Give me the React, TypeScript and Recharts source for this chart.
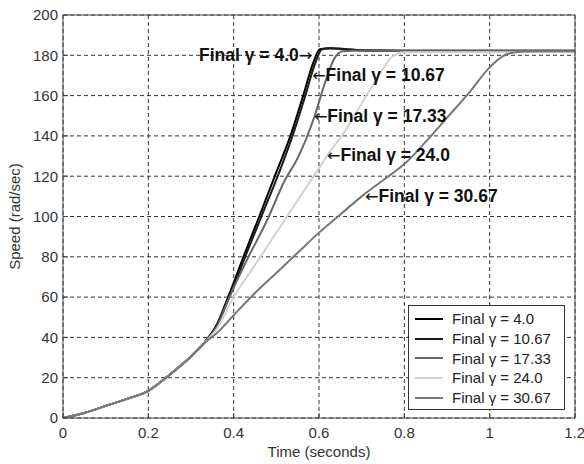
import { CartesianGrid, Legend, Line, LineChart, ReferenceDot, XAxis, YAxis } from "recharts";

const xTicks = [0, 0.2, 0.4, 0.6, 0.8, 1, 1.2];
const yTicks = [0, 20, 40, 60, 80, 100, 120, 140, 160, 180, 200];

// shared start-up before the curves split
const baseT = [0, 0.05, 0.1, 0.15, 0.2, 0.25, 0.3, 0.33];
const baseV = [0, 2.5, 6, 9.5, 13.5, 21.5, 30.5, 37];

const t4 = [0.36, 0.387, 0.423, 0.46, 0.5, 0.533, 0.563, 0.586, 0.602, 0.625, 0.66, 0.7, 0.8, 1.2];
const v4 = [46, 60, 80, 100, 122, 140, 160, 176, 183, 183.5, 183, 182.5, 182.3, 182.3];

const t10 = [0.36, 0.39, 0.427, 0.465, 0.505, 0.538, 0.568, 0.591, 0.607, 0.63, 0.665, 0.71, 1.2];
const v10 = [46, 60, 80, 100, 121, 140, 160, 176, 183, 183.5, 183, 182.3, 182.3];

const t17 = [0.36, 0.39, 0.43, 0.478, 0.52, 0.55, 0.59, 0.615, 0.635, 0.655, 0.68, 1.2];
const v17 = [45, 60, 78, 98, 118, 129, 150, 167, 178, 182, 182.2, 182];

const t24 = [0.36, 0.4, 0.45, 0.5, 0.55, 0.6, 0.62, 0.65, 0.7, 0.74, 0.77, 0.8, 1.2];
const v24 = [44, 60, 76, 92, 108, 124, 130.5, 139, 156, 170, 179, 181.5, 181.5];

const t30 = [0.36, 0.4, 0.45, 0.5, 0.55, 0.6, 0.65, 0.7, 0.75, 0.8, 0.85, 0.9, 0.95, 1.0, 1.03, 1.06, 1.1, 1.2];
const v30 = [42, 51, 62, 72, 82, 92, 101, 110, 118, 126, 137, 149, 161, 174, 179.5, 181.5, 182, 182];

const seriesNames = ["Final γ = 4.0", "Final γ = 10.67", "Final γ = 17.33", "Final γ = 24.0", "Final γ = 30.67"];
const seriesColors = ["#000000", "#1c1c1c", "#666666", "#d2d2d2", "#777777"];

// arrow annotations, tip at (noteT, noteV)
const noteT = [0.584, 0.584, 0.588, 0.619, 0.708];
const noteV = [180, 170, 150, 130.5, 110];
const noteText = ["Final γ = 4.0", "Final γ = 10.67", "Final γ = 17.33", "Final γ = 24.0", "Final γ = 30.67"];

const build = (t: number[], v: number[]) => {
  const ts = [...baseT, ...t];
  const vs = [...baseV, ...v];
  return ts.map((x, i) => ({ t: x, v: vs[i] }));
};

const seriesData = [build(t4, v4), build(t10, v10), build(t17, v17), build(t24, v24), build(t30, v30)];

const FONT = "'Liberation Sans', Arial, sans-serif";
const FRAME = "#444";

function LegendBox() {
  return (
    <div
      style={{
        boxSizing: "border-box",
        width: 157,
        height: 105,
        border: "1px solid #333",
        background: "#fff",
        paddingTop: 3,
        fontSize: 15,
        color: "#222",
        fontFamily: FONT,
      }}
    >
      {seriesNames.map((name, i) => (
        <div key={name} style={{ display: "flex", alignItems: "center", height: 19.7 }}>
          <svg width={28} height={4} style={{ marginLeft: 6 }}>
            <line x1={0} x2={28} y1={2} y2={2} stroke={seriesColors[i]} strokeWidth={2} />
          </svg>
          <span style={{ marginLeft: 9, lineHeight: 1 }}>{name}</span>
        </div>
      ))}
    </div>
  );
}

const arrow = (ch: string) => (
  <tspan fontFamily="'DejaVu Sans', sans-serif" fontWeight={400} fontSize={16}>
    {ch}
  </tspan>
);

const noteLabel = (i: number) => (props: any) => {
  const vb = props.viewBox || {};
  const x = vb.x + (vb.width || 0) / 2;
  const y = vb.y + (vb.height || 0) / 2;
  return (
    <text
      x={x}
      y={y}
      textAnchor={i === 0 ? "end" : "start"}
      dominantBaseline="central"
      fontSize={17.5}
      fontWeight={700}
      fill="#111"
      fontFamily={FONT}
    >
      {i === 0 ? (
        <>
          {noteText[i]}
          {arrow("→")}
        </>
      ) : (
        <>
          {arrow("←")}
          {noteText[i]}
        </>
      )}
    </text>
  );
};

export default function App() {
  return (
    <div style={{ position: "absolute", left: 0, top: 0, width: 584, height: 464, background: "#fff", fontFamily: FONT }}>
      <LineChart width={584} height={464} margin={{ top: 14, right: 8, bottom: 0, left: 0 }}>
        <CartesianGrid stroke="#333" strokeDasharray="4 3" strokeWidth={1} />
        <XAxis
          dataKey="t"
          type="number"
          domain={[0, 1.2]}
          ticks={xTicks}
          allowDataOverflow
          height={46}
          stroke={FRAME}
          tickSize={-5}
          tickMargin={14}
          tick={{ fill: "#333", fontSize: 15 }}
          label={{ value: "Time (seconds)", position: "center", dy: 11, fill: "#333", fontSize: 15 }}
        />
        <XAxis
          xAxisId="top"
          orientation="top"
          type="number"
          domain={[0, 1.2]}
          ticks={xTicks}
          height={1}
          stroke={FRAME}
          tickSize={-5}
          tick={false}
        />
        <YAxis
          type="number"
          domain={[0, 200]}
          ticks={yTicks}
          width={63}
          stroke={FRAME}
          tickSize={-5}
          tickMargin={10}
          tick={{ fill: "#333", fontSize: 15 }}
          label={{ value: "Speed (rad/sec)", angle: -90, position: "center", dx: -17, fill: "#333", fontSize: 15 }}
        />
        <YAxis
          yAxisId="right"
          orientation="right"
          type="number"
          domain={[0, 200]}
          ticks={yTicks}
          width={1}
          stroke={FRAME}
          tickSize={-5}
          tick={false}
        />
        {seriesData.map((d, i) => (
          <Line
            key={seriesNames[i]}
            data={d}
            dataKey="v"
            name={seriesNames[i]}
            type="monotone"
            stroke={seriesColors[i]}
            strokeWidth={2}
            dot={false}
            isAnimationActive={false}
          />
        ))}
        {noteT.map((t, i) => (
          <ReferenceDot key={noteText[i]} x={t} y={noteV[i]} r={0} fill="none" stroke="none" label={noteLabel(i)} />
        ))}
        <Legend
          layout="horizontal"
          verticalAlign="middle"
          content={() => <LegendBox />}
          wrapperStyle={{ left: 408, top: 305, width: 157 }}
        />
      </LineChart>
    </div>
  );
}
